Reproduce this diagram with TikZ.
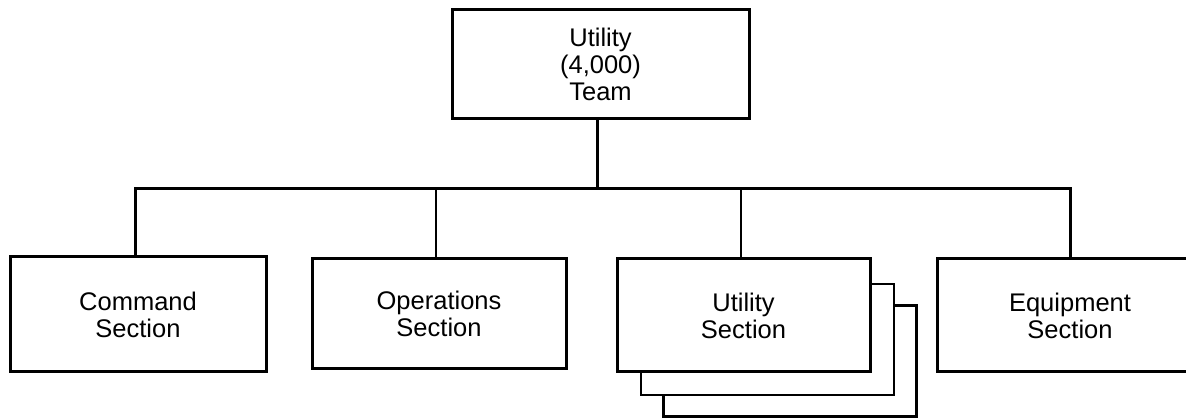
\documentclass[tikz,border=0pt]{standalone}
\usepackage{fontspec}
\setmainfont{Liberation Sans}
\begin{document}
\begin{tikzpicture}[x=1pt,y=-1pt,
  box/.style={draw, line width=3pt, fill=white, inner sep=0pt, align=center,
    font=\fontsize{25.5}{27}\selectfont},
  shadowbox/.style={draw, line width=2.5pt, fill=white, inner sep=0pt,
    minimum width=253pt, minimum height=111pt},
  thickline/.style={line width=3pt},
  thinline/.style={line width=1.3pt}]
\useasboundingbox (0,0) rectangle (1186,419);
\clip (0,0) rectangle (1186,419);

% top box
\node[box, minimum width=297pt, minimum height=109pt] (top) at (600.5,64.5)
  {Utility\\(4,000)\\Team};

% section boxes
\node[box, minimum width=256pt, minimum height=115pt] (cmd) at (138,314.5)
  {Command\\Section};
\node[box, minimum width=254pt, minimum height=110pt] (ops) at (439,314)
  {Operations\\Section};
\node[shadowbox] (sh2) at (790,361) {};
\node[shadowbox] (sh1) at (767.5,339.5) {};
\node[box, minimum width=253pt, minimum height=113pt] (util) at (743.5,315.5)
  {Utility\\Section};
\node[box, minimum width=266pt, minimum height=113pt] (equip) at (1070,315.5)
  {Equipment\\Section};

% bus
\coordinate (busL) at (135,189);
\coordinate (busR) at (1070,189);
\coordinate (busT) at (597,189);
\coordinate (busO) at (436,189);
\coordinate (busU) at (741,189);

\draw[thickline] ([xshift=-3.5pt]top.south) -- (busT);
\draw[thickline, line join=miter] (cmd.north -| busL) -- (busL) -- (busR) -- (equip.north -| busR);
\draw[thinline] (busO) -- (ops.north -| busO);
\draw[thinline] (busU) -- (util.north -| busU);
\end{tikzpicture}
\end{document}
